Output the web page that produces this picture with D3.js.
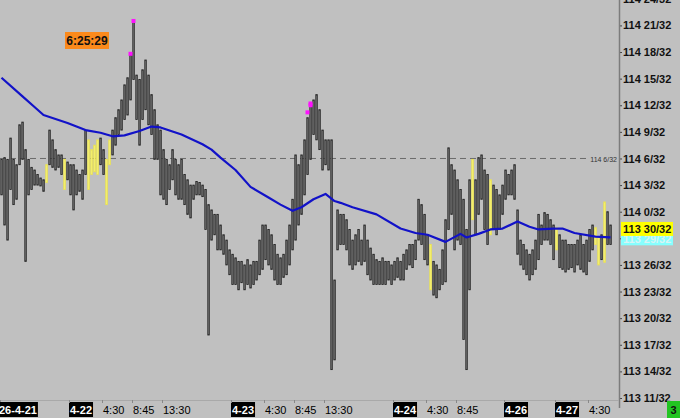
<!DOCTYPE html>
<html><head><meta charset="utf-8">
<script src="https://cdn.jsdelivr.net/npm/d3@7"></script>
<style>html,body{margin:0;padding:0;background:#c0c0c0;}svg{display:block;}</style>
</head><body>
<svg id="chart" width="680" height="418"></svg>
<script>
// ---- data (prices in 32nds above 113) ----
const highs = [37.9,38.1,37.9,40.3,37.9,37.3,41.8,42.1,39.0,37.9,37.0,36.7,36.2,35.8,35.6,37.3,41.2,40.1,39.0,38.4,
38.4,37.9,37.6,37.3,37.3,36.7,36.2,36.7,41.2,40.1,39.0,39.5,40.1,40.3,39.0,37.9,40.1,41.2,42.6,43.5,
44.6,46.3,47.1,49.7,53.4,47.4,46.9,48.0,49.1,47.4,45.2,43.5,41.8,41.2,39.0,37.9,37.3,39.0,37.9,37.3,
37.9,36.2,35.6,35.0,35.0,35.4,35.3,35.0,34.5,32.8,32.2,31.7,31.7,30.5,29.4,28.8,27.7,27.2,26.8,26.4,
26.4,26.0,26.6,26.0,26.4,26.4,28.8,30.5,30.5,30.0,29.4,28.3,27.2,26.8,27.2,28.8,30.5,33.4,38.4,37.3,
38.4,40.1,42.6,44.1,44.6,45.2,43.5,41.2,40.1,40.1,40.1,24.3,32.2,31.7,31.7,31.1,30.0,28.8,29.4,30.0,
28.8,30.5,28.8,27.9,27.2,26.6,26.4,26.8,26.4,26.4,26.0,26.4,26.8,26.4,27.2,27.7,28.3,28.3,28.8,33.4,
32.8,31.7,29.4,28.3,26.4,26.0,25.5,27.7,31.1,39.2,37.3,36.7,35.6,34.5,33.4,30.0,35.6,37.9,35.6,38.1,
38.4,36.7,36.2,35.6,35.0,34.5,33.9,35.0,36.7,36.2,36.7,37.3,32.2,28.8,28.3,27.7,27.2,27.7,28.8,31.7,
30.5,31.9,31.7,31.1,30.5,30.2,29.4,28.8,28.8,28.3,28.3,28.3,28.8,29.4,28.3,28.8,30.0,30.5,30.2,29.1,
29.4,33.1,32.0,30.5];
const lows = [33.9,30.5,28.8,34.5,32.8,33.4,37.3,37.9,26.4,33.9,34.5,35.0,35.0,34.9,34.3,35.3,37.3,37.0,36.7,37.0,
36.2,34.5,35.6,33.9,32.2,33.9,34.3,33.4,36.2,34.5,36.2,36.5,36.2,37.3,36.2,32.8,37.3,38.4,39.5,40.7,
41.2,42.4,42.9,44.6,46.9,42.4,39.5,42.4,43.5,41.8,40.7,37.9,37.9,33.9,33.4,32.8,34.5,35.6,33.9,33.4,
33.4,32.8,31.7,31.3,33.4,33.9,33.9,33.7,30.0,18.1,28.8,29.4,27.7,27.7,27.2,26.0,24.9,23.8,23.8,23.2,
24.0,23.2,23.8,23.4,23.8,24.3,24.9,25.5,26.6,26.0,25.5,24.3,23.8,23.8,24.6,24.9,26.0,27.7,28.8,30.5,
31.7,33.9,36.2,37.9,40.7,40.1,39.0,36.7,37.3,36.7,14.2,15.3,27.7,28.3,28.3,27.7,26.0,25.5,26.0,26.4,
26.0,26.4,24.9,24.3,23.8,23.8,23.8,23.8,23.8,24.3,23.8,24.3,24.6,24.3,24.3,25.5,26.0,25.7,26.6,28.8,
28.3,26.6,26.0,23.2,22.6,22.3,23.2,23.8,24.1,30.0,31.7,27.7,28.8,28.3,17.6,14.2,23.2,31.1,29.4,31.7,
33.4,30.0,28.3,29.4,30.0,29.4,30.0,31.7,33.4,33.9,33.9,33.4,27.2,26.0,25.5,24.9,24.3,24.9,25.5,26.6,
28.3,28.8,28.8,28.3,26.6,27.7,25.7,25.5,25.2,25.5,25.7,25.2,26.0,25.5,25.2,24.9,26.4,27.7,28.3,26.0,
26.6,26.3,28.3,28.3];
const yellowBars = [15,21,29,30,31,32,35,36,143,157,163,185,198,199,201];

const maIndex = [0,7,11,14,22,28,33,37,41,46,50,53,60,67,70,73,78,83,89,93,97,100,104,108,111,113,117,125,133,138,142,148,153,155,159,163,167,172,176,179,184,187,191,198,203];
const maValue = [47.1,45.0,43.8,42.9,42.0,41.2,40.9,40.5,40.6,41.1,41.6,41.5,40.7,39.6,39.0,38.1,36.7,34.8,33.6,32.8,32.1,32.5,33.4,34.0,33.2,33.0,32.5,31.7,30.1,29.6,29.4,28.6,29.5,29.1,29.5,30.0,30.1,30.9,30.3,30.0,30.1,30.1,29.6,29.2,29.1];

const markIndex = [44,43,102,103,103];
const markValue = [53.5,49.8,43.2,44.0,44.2];

const yTicks = [11,14,17,20,23,26,29,32,35,38,41,44,47,50,53,56];
const yTickLabels = ["113 11/32","113 14/32","113 17/32","113 20/32","113 23/32","113 26/32","113 29/32","114 0/32","114 3/32","114 6/32","114 9/32","114 12/32","114 15/32","114 18/32","114 21/32","114 24/32"];

const refLevel = 38, refLabel = "114 6/32";
const lastPrice = 30, lastLabel = "113 30/32";
const maLast = 29, maLastLabel = "113 29/32";
const timerText = "6:25:29";

const xLabelIndex = [0,23,34,44,54,77,88,98,108,131,142,152,168,185,196];
const xLabelText = ["26-4-21","4-22","4:30","8:45","13:30","4-23","4:30","8:45","13:30","4-24","4:30","8:45","4-26","4-27","4:30"];
const xLabelIsDate = [true,true,false,false,false,true,false,false,false,true,false,false,true,true,false];

// ---- drawing ----
const svg = d3.select("#chart");
const plotW = 619, plotH = 400;
const x = d3.scaleBand().domain(d3.range(highs.length)).range([0, highs.length*3]).padding(0);
const y = d3.scaleLinear().domain([11, 56]).range([398, -1.2]);

svg.append("rect").attr("width",680).attr("height",418).attr("fill","#c0c0c0");
svg.append("clipPath").attr("id","clip").append("rect").attr("width",plotW).attr("height",plotH);
const plot = svg.append("g").attr("clip-path","url(#clip)");

// dashed level
plot.append("line").attr("x1",0).attr("x2",590).attr("y1",y(refLevel)).attr("y2",y(refLevel))
  .attr("stroke","#6a6a6a").attr("stroke-width",1).attr("stroke-dasharray","6,4");
svg.append("text").attr("x",617).attr("y",y(refLevel)+4).attr("text-anchor","end")
  .attr("font-family","Liberation Sans, Arial").attr("font-size",7).attr("fill","#333").text(refLabel);

// bars
const ys = new Set(yellowBars);
plot.selectAll("rect.bar").data(highs.map((h,i)=>({i,h,l:lows[i]}))).join("rect")
  .attr("class","bar")
  .attr("x",d=>x(d.i)+0.8).attr("width",1.5)
  .attr("y",d=>y(d.h)).attr("height",d=>Math.max(1,y(d.l)-y(d.h)))
  .attr("fill",d=>ys.has(d.i)?"#f6f27a":"#7d7d7d")
  .attr("stroke",d=>ys.has(d.i)?"#ece44c":"#262626").attr("stroke-width",0.85);

// moving average
const line = d3.line().x(d=>x(d[0])+1.5).y(d=>y(d[1]));
plot.append("path").datum(maIndex.map((v,k)=>[v,maValue[k]])).attr("d",line)
  .attr("fill","none").attr("stroke","#1212c8").attr("stroke-width",2.2).attr("stroke-linejoin","round");

// magenta markers
plot.selectAll("rect.mk").data(markIndex.map((v,k)=>[v,markValue[k]])).join("rect")
  .attr("x",d=>x(d[0])-0.5).attr("y",d=>y(d[1])-2).attr("width",4).attr("height",4).attr("fill","#ff10ff");

// timer box
svg.append("rect").attr("x",65).attr("y",32).attr("width",44).attr("height",17).attr("fill","#fb8a1c");
svg.append("text").attr("x",87).attr("y",45).attr("text-anchor","middle")
  .attr("font-family","Liberation Sans, Arial").attr("font-weight","bold").attr("font-size",12).attr("fill","#111").text(timerText);

// right axis
const yAxis = d3.axisRight(y).tickValues(yTicks).tickFormat((d,k)=>yTickLabels[k]).tickSize(3).tickPadding(1);
const ga = svg.append("g").attr("transform","translate(619,0)").call(yAxis);
ga.select(".domain").remove();
ga.selectAll(".tick line").attr("stroke","#444");
ga.selectAll(".tick text").attr("font-family","Liberation Sans, Arial").attr("font-weight","bold").attr("font-size",11).attr("fill","#111");
svg.append("line").attr("x1",619.5).attr("x2",619.5).attr("y1",0).attr("y2",408).attr("stroke","#7c7c7c").attr("stroke-width",1.5);

// badges
svg.append("rect").attr("x",621).attr("y",y(maLast)-5).attr("width",52).attr("height",12).attr("fill","#86ffff");
svg.append("text").attr("x",623).attr("y",y(maLast)+5).attr("font-family","Liberation Sans, Arial").attr("font-weight","bold")
  .attr("font-size",11).attr("fill","#d8f4f4").text(maLastLabel);
svg.append("rect").attr("x",621).attr("y",y(lastPrice)-7.5).attr("width",52).attr("height",14).attr("fill","#ffff00");
svg.append("text").attr("x",623).attr("y",y(lastPrice)+4).attr("font-family","Liberation Sans, Arial").attr("font-weight","bold")
  .attr("font-size",11).attr("fill","#111").text(lastLabel);

// bottom axis
svg.append("line").attr("x1",0).attr("x2",619).attr("y1",400.5).attr("y2",400.5).attr("stroke","#a9a9a9");
const gx = svg.append("g");
xLabelIndex.forEach((idx,k)=>{
  const px = x(idx) - (k===0 ? 2 : 0);
  gx.append("line").attr("x1",x(idx)+0.5).attr("x2",x(idx)+0.5).attr("y1",400).attr("y2",403).attr("stroke","#888");
  const t = gx.append("text").attr("x",px+1).attr("y",414).attr("font-family","Liberation Sans, Arial")
    .attr("font-size",11).text(xLabelText[k]);
  if (xLabelIsDate[k]) {
    t.attr("font-weight","bold");
    const w = t.node().getComputedTextLength();
    gx.insert("rect","text").attr("x",px).attr("y",402).attr("width",w+2).attr("height",15).attr("fill","#000");
    t.attr("fill","#fff");
    t.raise();
  } else {
    t.attr("fill","#000");
  }
});

// green box
svg.append("rect").attr("x",667).attr("y",401).attr("width",13).attr("height",17).attr("fill","#22c422");
svg.append("text").attr("x",673.5).attr("y",414).attr("text-anchor","middle").attr("font-family","Liberation Sans, Arial")
  .attr("font-weight","bold").attr("font-size",11).attr("fill","#111").text("3");
</script>
</body></html>
